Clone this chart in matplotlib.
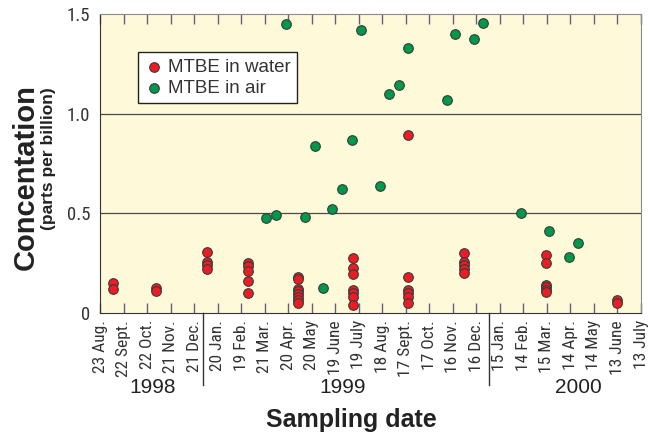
import matplotlib
matplotlib.use("Agg")
import matplotlib.pyplot as plt
import matplotlib.dates as mdates
import numpy as np

# MTBE in water: one entry per sample (dates repeat for same-day samples)
water_dates = (
    ["1998-09-08"] * 2 + ["1998-11-03"] * 2 + ["1999-01-06"] * 4
    + ["1999-02-28"] * 5 + ["1999-05-03"] * 8 + ["1999-07-12"] * 7
    + ["1999-09-20"] * 6 + ["1999-11-30"] * 5 + ["2000-03-14"] * 6
    + ["2000-06-12"] * 2
)
water_ppb = [
    0.148, 0.118,
    0.123, 0.111,
    0.305, 0.255, 0.24, 0.22,
    0.25, 0.235, 0.21, 0.16, 0.10,
    0.18, 0.17, 0.12, 0.11, 0.095, 0.08, 0.065, 0.05,
    0.278, 0.228, 0.195, 0.115, 0.098, 0.078, 0.04,
    0.893, 0.18, 0.115, 0.10, 0.08, 0.048,
    0.30, 0.257, 0.24, 0.223, 0.20,
    0.29, 0.25, 0.14, 0.128, 0.115, 0.107,
    0.065, 0.052,
]

# MTBE in air
air_dates = [
    "1999-03-23", "1999-04-04", "1999-04-17", "1999-05-12", "1999-05-24",
    "1999-06-03", "1999-06-15", "1999-06-28", "1999-07-10", "1999-07-22",
    "1999-08-15", "1999-08-27", "1999-09-08", "1999-09-20", "1999-11-08",
    "1999-11-19", "1999-12-13", "1999-12-25", "2000-02-11", "2000-03-18",
    "2000-04-12", "2000-04-24",
]
air_ppb = [
    0.477, 0.49, 1.45, 0.48, 0.837,
    0.127, 0.52, 0.62, 0.87, 1.42,
    0.637, 1.10, 1.145, 1.33, 1.07,
    1.40, 1.375, 1.457, 0.50, 0.41,
    0.28, 0.35,
]

# monthly sampling ticks
tick_dates = [
    "1998-08-23", "1998-09-22", "1998-10-22", "1998-11-21", "1998-12-21",
    "1999-01-20", "1999-02-19", "1999-03-21", "1999-04-20", "1999-05-20",
    "1999-06-19", "1999-07-19", "1999-08-18", "1999-09-17", "1999-10-17",
    "1999-11-16", "1999-12-16", "2000-01-15", "2000-02-14", "2000-03-15",
    "2000-04-14", "2000-05-14", "2000-06-13", "2000-07-13",
]
tick_labels = [
    "23 Aug.", "22 Sept.", "22 Oct.", "21 Nov.", "21 Dec.",
    "20 Jan.", "19 Feb.", "21 Mar.", "20 Apr.", "20 May",
    "19 June", "19 July", "18 Aug.", "17 Sept.", "17 Oct.",
    "16 Nov.", "16 Dec.", "15 Jan.", "14 Feb.", "15 Mar.",
    "14 Apr.", "14 May", "13 June", "13 July",
]
year_breaks = ["1999-01-01", "2000-01-01"]
years = ["1998", "1999", "2000"]

narrow = ["Liberation Sans Narrow", "Roboto Condensed", "DejaVu Sans"]
plt.rcParams["font.family"] = ["Liberation Sans", "DejaVu Sans"]

to_num = lambda ds: mdates.date2num(np.array(ds, dtype="datetime64[D]"))

fig = plt.figure(figsize=(6.49, 4.32), dpi=100)
ax = fig.add_axes([0.1541, 0.2755, 0.8336, 0.692])
ax.set_facecolor("#FEFAD9")

red = "#EC1C24"
green = "#00984A"
ax.scatter(to_num(water_dates), water_ppb, s=48, color=red,
           edgecolor="#3a3a3a", linewidth=0.8, zorder=3, label="MTBE in water")
ax.scatter(to_num(air_dates), air_ppb, s=48, color=green,
           edgecolor="#3a3a3a", linewidth=0.8, zorder=3, label="MTBE in air")

ax.set_xlim(to_num(["1998-08-23"])[0], to_num(["2000-07-13"])[0])
ax.set_ylim(0, 1.5)

for g in (0.5, 1.0):
    ax.axhline(g, color="#4a4a4a", lw=0.9, zorder=1)

ax.set_yticks([0, 0.5, 1.0, 1.5])
ax.set_yticklabels(["0", "0.5", "1.0", "1.5"], family=narrow, fontsize=13.5,
                   color="#333333")
ax.tick_params(axis="y", length=0, pad=7)

ax.set_xticks(to_num(tick_dates))
ax.set_xticklabels(tick_labels, rotation=90, family=narrow, fontsize=12.5,
                   color="#333333", va="top", ha="center")
ax.tick_params(axis="x", direction="in", length=7.5, width=1.0,
               color="#6E5A80", top=True, pad=5)

for side in ("left", "bottom"):
    ax.spines[side].set_color("#333333")
for side in ("top", "right"):
    ax.spines[side].set_color("#8a8a8a")

# year separators and labels below the axis
for d in year_breaks:
    ax.plot([to_num([d])[0]] * 2, [0, -0.24], color="#333333", lw=1.0,
            transform=ax.get_xaxis_transform(), clip_on=False)
for x, yr in zip([0.098, 0.449, 0.884], years):
    ax.text(x, -0.25, yr, transform=ax.transAxes, ha="center", va="center",
            fontsize=15, color="#222222")

fig.text(0.542, 0.027, "Sampling date", ha="center", va="center",
         fontsize=18, fontweight="bold", color="#222222")
fig.text(0.040, 0.59, "Concentation", rotation=90, ha="center", va="center",
         fontsize=21, fontweight="bold", color="#222222")
fig.text(0.075, 0.632, "(parts per billion)", rotation=90, ha="center",
         va="center", fontsize=12.5, fontweight="bold", color="#222222")

leg = ax.legend(loc="upper left", bbox_to_anchor=(0.07, 0.873), fontsize=13.5,
                frameon=True, fancybox=False, framealpha=1, edgecolor="#222222",
                handletextpad=0.25, handlelength=1.0, borderpad=0.35,
                labelspacing=0.2, borderaxespad=0)
leg.get_frame().set_linewidth(1.0)
for t in leg.get_texts():
    t.set_color("#333333")

fig.savefig("out.png", dpi=100)
